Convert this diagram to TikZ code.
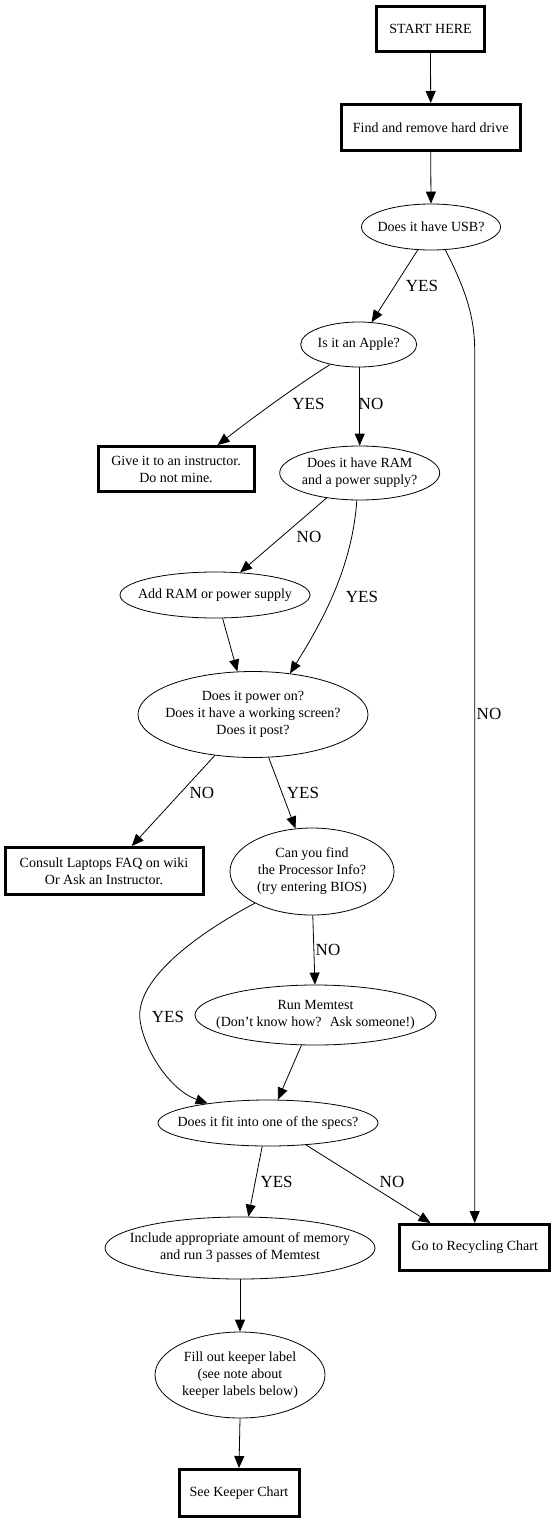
\documentclass[tikz,border=0pt]{standalone}
\usepackage{fontspec}
\setmainfont{Liberation Serif}
\usetikzlibrary{shapes.geometric,arrows.meta,calc}
\begin{document}
\begin{tikzpicture}[x=1pt,y=-1pt,
  box/.style={draw, line width=3pt, rectangle, inner sep=0pt, font=\fontsize{14}{17}\selectfont, align=center},
  ell/.style={draw, line width=0.8pt, ellipse, inner sep=0pt},
  txt/.style={font=\fontsize{14}{17}\selectfont, align=center, inner sep=0pt},
  lbl/.style={font=\fontsize{17}{20}\selectfont, inner sep=0pt},
  edge/.style={line width=0.8pt, -{Triangle[length=12pt,width=10pt]}}
]
\useasboundingbox (0,0) rectangle (557,1523);

% nodes
\node[box, minimum width=108pt, minimum height=45pt] (start) at (430.5,29) {START HERE};
\node[box, minimum width=179pt, minimum height=46pt] (find) at (430.7,127.5) {Find and remove hard drive};
\node[ell, minimum width=139pt, minimum height=46pt, label={[txt]center:{Does it have USB?}}] (usb) at (431,227) {};
\node[ell, minimum width=116pt, minimum height=45pt, label={[txt]center:{Is it an Apple?}}] (apple) at (358.7,344.5) {};
\node[box, minimum width=156pt, minimum height=45pt] (give) at (176,469) {Give it to an instructor.\\Do not mine.};
\node[ell, minimum width=160pt, minimum height=54pt, label={[txt]center:{Does it have RAM\\and a power supply?}}] (ram) at (359.7,473) {};
\node[ell, minimum width=190pt, minimum height=46pt, label={[txt]center:{Add RAM or power supply}}] (addram) at (215,595) {};
\node[ell, minimum width=230pt, minimum height=86pt, label={[txt]center:{Does it power on?\\Does it have a working screen?\\Does it post?}}] (power) at (253,714.5) {};
\node[box, minimum width=198pt, minimum height=47pt] (consult) at (104,871) {Consult Laptops FAQ on wiki\\Or Ask an Instructor.};
\node[ell, minimum width=164pt, minimum height=87pt, label={[txt]center:{Can you find\\the Processor Info?\\(try entering BIOS)}}] (proc) at (312,871.5) {};
\node[ell, minimum width=241pt, minimum height=60pt, label={[txt]center:{Run Memtest\\(Don't know how?~ Ask someone!)}}] (mem) at (315.5,1015) {};
\node[ell, minimum width=220pt, minimum height=46pt, label={[txt]center:{Does it fit into one of the specs?}}] (specs) at (268,1123) {};
\node[ell, minimum width=270pt, minimum height=62pt, label={[txt]center:{Include appropriate amount of memory\\and run 3 passes of Memtest}}] (incl) at (240,1248) {};
\node[box, minimum width=150pt, minimum height=46pt] (recyc) at (474.7,1247.5) {Go to Recycling Chart};
\node[ell, minimum width=170pt, minimum height=86pt, label={[txt]center:{Fill out keeper label\\(see note about\\keeper labels below)}}] (keeper) at (240,1375) {};
\node[box, minimum width=120pt, minimum height=47pt] (seek) at (239,1493) {See Keeper Chart};

% helper coordinates
\coordinate (k1) at (474.7,350);
\coordinate (k2) at (140,1020);

% edges
\draw[edge] (start.south) -- (find.north);
\draw[edge] (find.south) -- (usb.north);
\draw[edge] (usb.-120) -- (apple.60);
\draw[edge] (usb.-58) .. controls (466,290) and (474.7,318) .. (k1) -- (recyc.north);
\draw[edge] (apple.-145) .. controls (290,390) and (250,420) .. (give.30);
\draw[edge] (apple.south -| ram.north) -- (ram.north);
\draw[edge] (ram.-143) -- (addram.42);
\draw[edge] (ram.-96) .. controls (352,570) and (320,625) .. (power.48);
\draw[edge] (addram.-72) -- (power.110);
\draw[edge] (power.-133) -- (consult.42);
\draw[edge] (power.-70) -- (proc.111);
\draw[edge] (proc.-89) -- (mem.91);
\draw[edge] (proc.-151) .. controls (195,935) and (135,980) .. (k2) .. controls (144,1050) and (170,1090) .. (specs.162);
\draw[edge] (mem.-115.5) -- (specs.67);
\draw[edge] (specs.-104) -- (incl.75);
\draw[edge] (specs.-30) -- (recyc.151);
\draw[edge] (incl.south) -- (keeper.north);
\draw[edge] (keeper.south) -- (seek.north);

% edge labels
\node[lbl] (l1) at (422,286) {YES};
\node[lbl] (l2) at (489,714) {NO};
\node[lbl] (l3) at (308.5,404) {YES};
\node[lbl] (l4) at (371,404) {NO};
\node[lbl] (l5) at (309,537) {NO};
\node[lbl] (l6) at (362,597) {YES};
\node[lbl] (l7) at (202,793) {NO};
\node[lbl] (l8) at (303,793) {YES};
\node[lbl] (l9) at (328,950) {NO};
\node[lbl] (l10) at (168,1017) {YES};
\node[lbl] (l11) at (276.6,1182) {YES};
\node[lbl] (l12) at (392,1182) {NO};
\end{tikzpicture}
\end{document}
